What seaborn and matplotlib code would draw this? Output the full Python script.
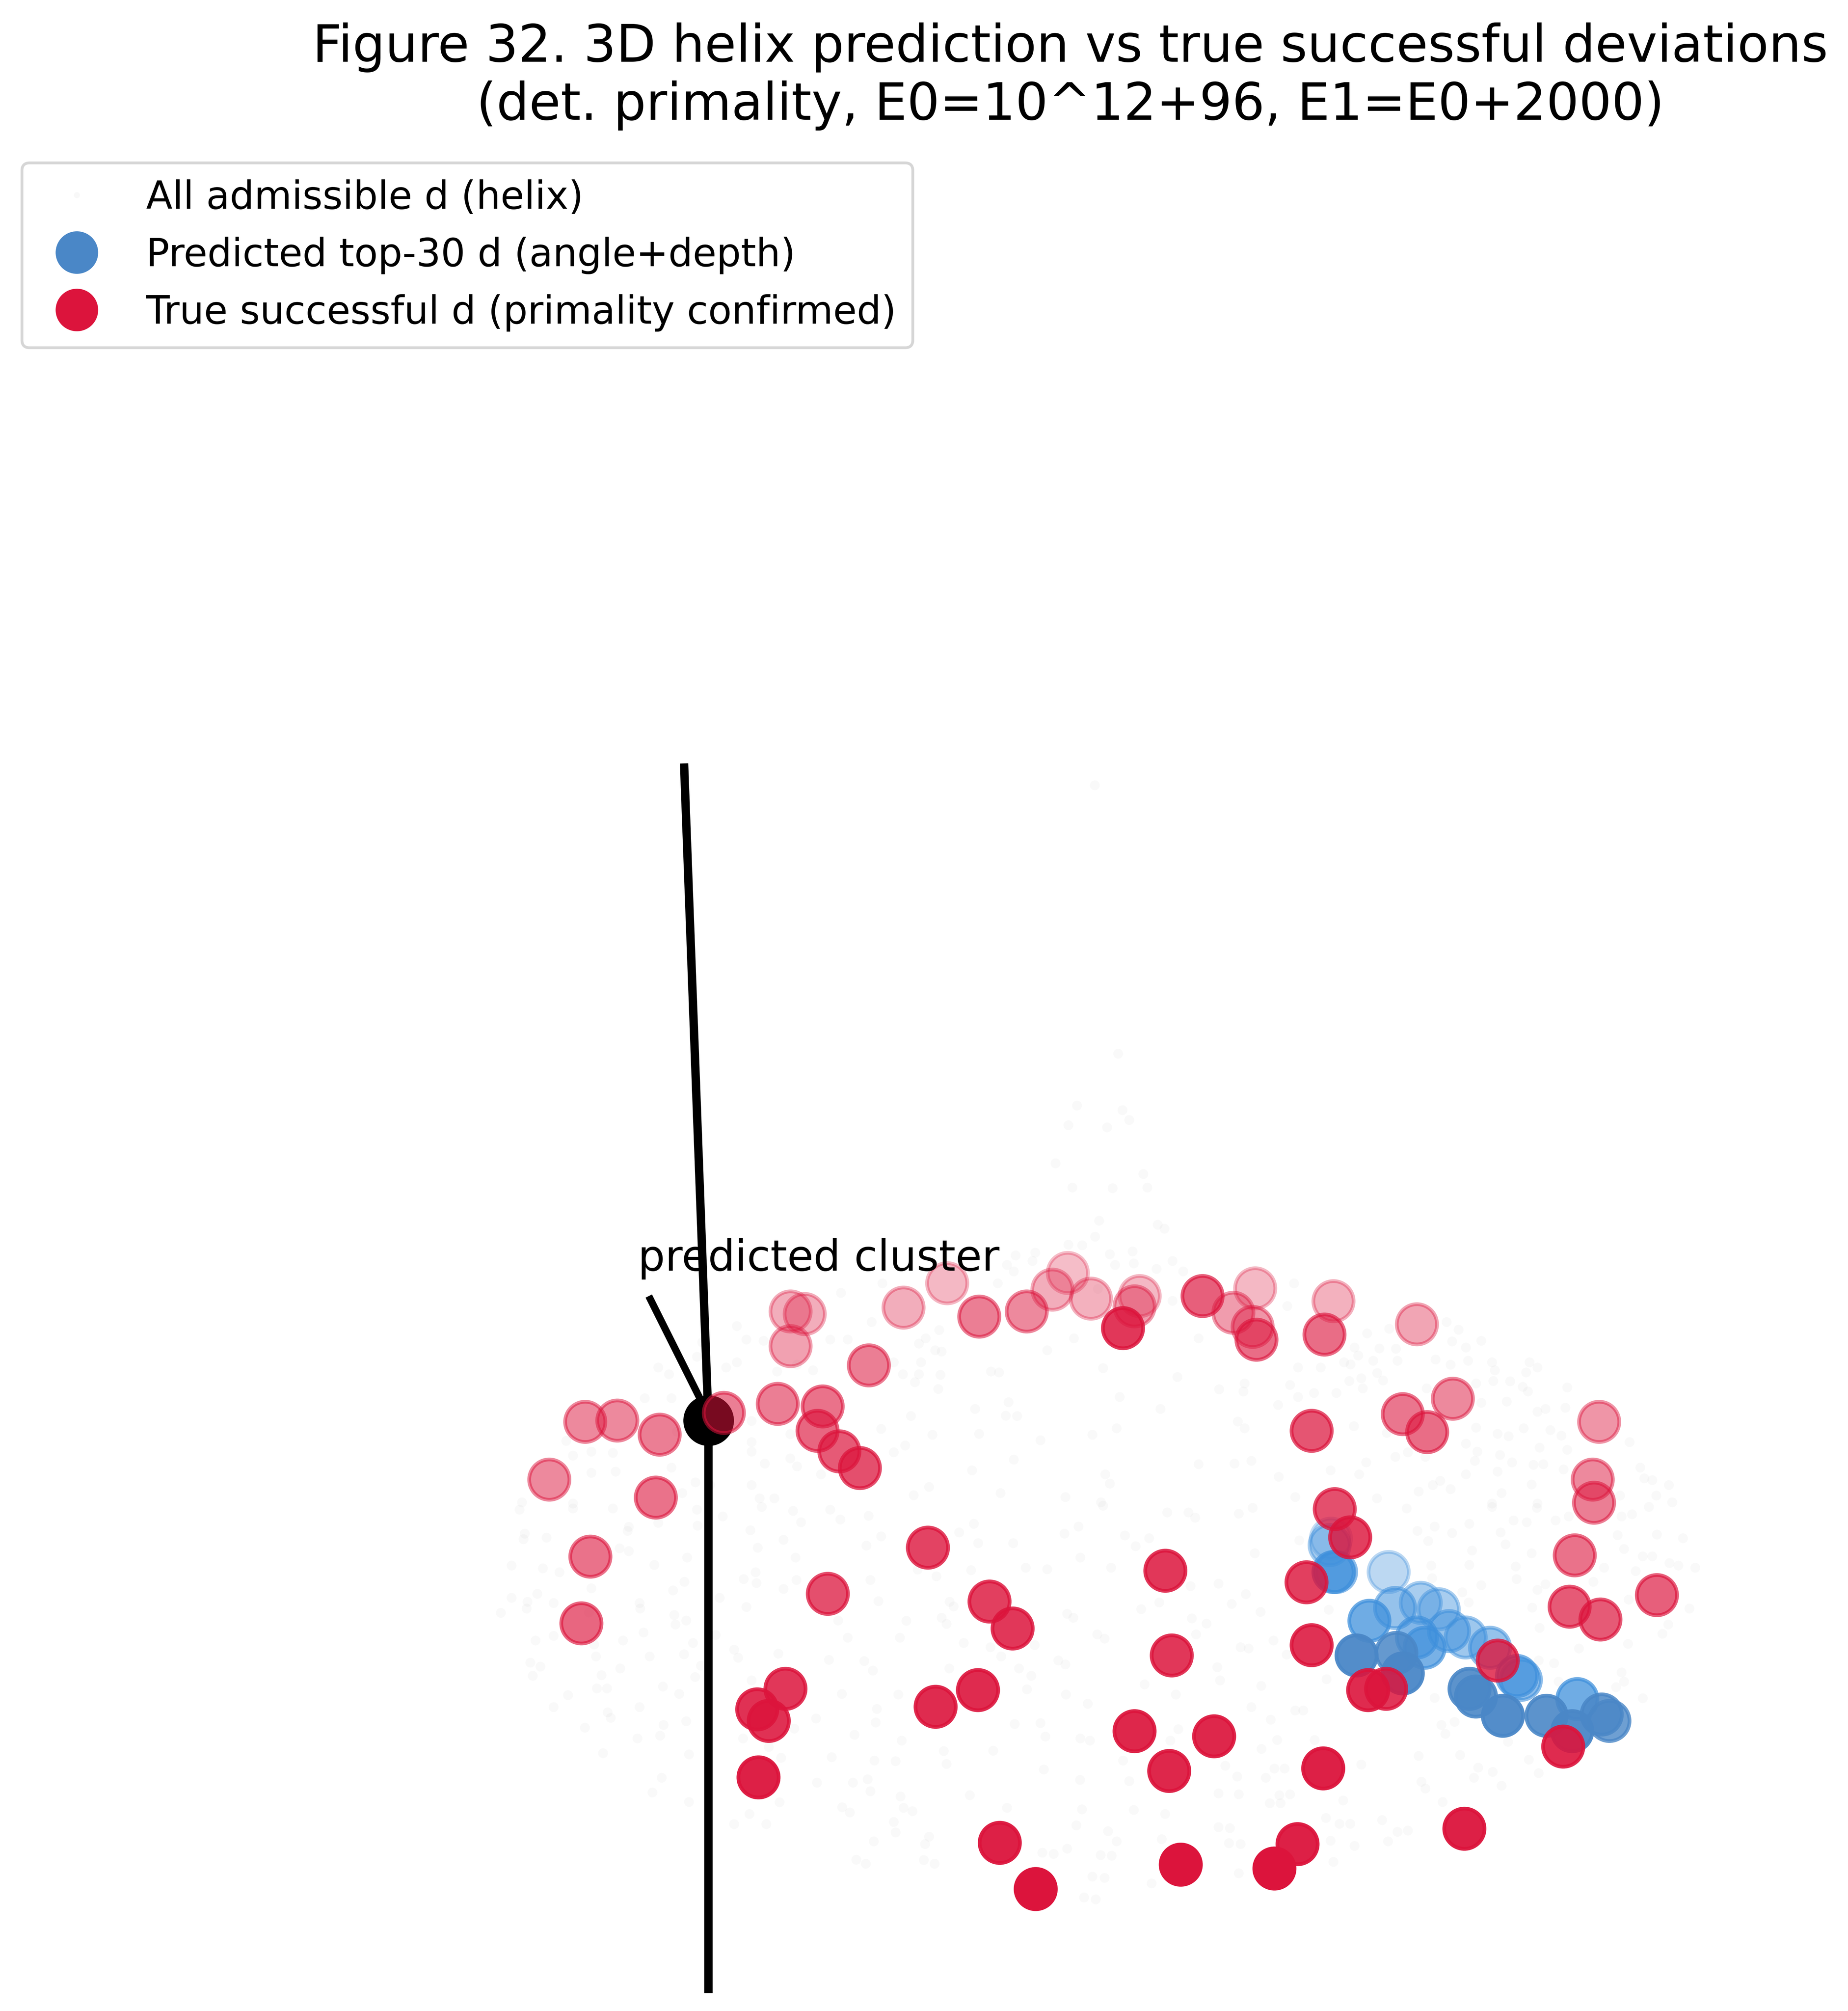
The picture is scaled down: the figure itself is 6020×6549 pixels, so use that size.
import numpy as np
import pandas as pd
import seaborn as sns
from matplotlib import pyplot as plt
from matplotlib.lines import Line2D

true_x = [456, 481, 514, 428, 511, 460, 453, 564, 606, 641, 637, 654, 670, 677, 616, 627, 616,
          704, 738, 763, 800, 820, 832, 850, 888, 884, 875, 937, 978, 961, 976, 979, 1039, 1032,
          1104, 1132, 1093, 1112, 1022, 1246, 1241, 1242, 1227, 1223, 1247, 1291, 1040, 1052,
          1018, 1022, 723, 645, 908, 771, 789, 913, 612, 590, 599, 591, 729, 762, 884, 946, 911,
          1031, 1066, 1080, 1167, 1218, 1141, 779, 807, 920, 993, 1011]
true_y = [1108, 1107, 1118, 1153, 1167, 1213, 1265, 1101, 1094, 1096, 1115, 1131, 1144, 1064,
          1022, 1024, 1049, 1019, 1000, 1026, 1022, 1005, 992, 1012, 1010, 1018, 1035, 1010, 1004,
          1023, 1034, 1044, 1014, 1040, 1032, 1090, 1102, 1116, 1115, 1108, 1153, 1171, 1212,
          1252, 1262, 1243, 1176, 1198, 1233, 1282, 1206, 1242, 1224, 1248, 1269, 1290, 1316,
          1332, 1341, 1385, 1330, 1317, 1349, 1353, 1380, 1378, 1317, 1316, 1294, 1361, 1425,
          1436, 1472, 1453, 1456, 1437]
true_depth = [.50, .50, .55, .50, .60, .60, .65, .55, .55, .60, .65, .70, .75, .55, .35, .35, .40,
              .35, .30, .55, .50, .35, .28, .33, .30, .42, .85, .68, .30, .42, .45, .62, .33, .62,
              .38, .50, .58, .62, .72, .45, .50, .55, .60, .70, .70, .68, .75, .82, .82, .88, .80,
              .75, .85, .82, .85, .85, .85, .88, .88, .95, .90, .90, .92, .92, .92, .95, .90, .85,
              .80, .90, .95, .95, 1.0, 1.0, 1.0, .95]

pred_x = [1082, 1037, 1036, 1039, 1041, 1087, 1107, 1121, 1067, 1104, 1110, 1129, 1142, 1161, 1182,
          1185, 1057, 1088, 1093, 1145, 1150, 1171, 1205, 1229, 1225, 1248, 1254]
pred_y = [1225, 1199, 1204, 1225, 1225, 1253, 1249, 1254, 1263, 1276, 1284, 1271, 1276, 1284, 1306,
          1309, 1290, 1288, 1304, 1316, 1322, 1337, 1337, 1324, 1349, 1336, 1341]
pred_depth = [.35, .30, .45, .75, .60, .55, .45, .45, .75, .65, .70, .55, .50, .55, .70, .60, .95,
              .85, .95, .90, .90, .95, .90, .75, .95, .85, .80]

# faint helix points, read crop by crop (crop units)
helix_lower_left = [
    (170, 15), (370, 10), (520, 10), (190, 105), (185, 125), (272, 120), (580, 80), (575, 95), (690, 65),
    (835, 15), (838, 75), (140, 225), (258, 235), (320, 250), (545, 160), (580, 170), (675, 222), (798, 195),
    (140, 345), (237, 330), (200, 360), (197, 385), (100, 402), (298, 365), (440, 310), (430, 400), (620, 365),
    (622, 385), (745, 318), (788, 285), (750, 410), (755, 445), (795, 430), (230, 505), (298, 488), (450, 520),
    (558, 505), (635, 475), (820, 515), (457, 565), (658, 565), (787, 557), (210, 588), (248, 603), (220, 638),
    (548, 610), (478, 635), (460, 685), (498, 685), (828, 642), (850, 600), (708, 678), (768, 706), (352, 710),
    (298, 755), (620, 755), (500, 775), (512, 795), (795, 808), (710, 822), (697, 862), (415, 832), (612, 872),
    (483, 927), (805, 932), (703, 1020), (668, 1075), (805, 1110), (932, 40), (1078, 5), (1195, 20), (1225, 62),
    (1335, 15), (1373, 52), (1478, 38), (1035, 92), (1160, 128), (1063, 158), (1470, 150), (1525, 115),
    (1205, 195), (1055, 250), (1010, 275), (1058, 290), (1208, 278), (1160, 312), (1485, 278), (920, 345),
    (1020, 380), (1515, 358), (1365, 430), (905, 485), (1400, 495), (975, 540), (990, 570), (1140, 555),
    (1330, 578), (1462, 582), (1495, 618), (1040, 655), (1378, 705), (1510, 762), (1282, 798), (1505, 812),
    (1200, 835), (1425, 858), (1008, 872), (1105, 905), (1340, 942), (1150, 945), (1500, 955), (1285, 1038),
    (1420, 1038), (1475, 1025), (1485, 1070), (1145, 1112), (1380, 1130), (1408, 1150), (1032, 1155), (975, 1193),
    (1095, 1193), (1498, 1258), (1432, 1327), (1468, 1342),
]
helix_lower_mid = [
    (305, 68), (250, 100), (698, 78), (645, 105), (322, 140), (453, 140), (872, 112), (962, 122), (912, 152),
    (1030, 25), (1110, 25), (1135, 45), (1298, 30), (1350, 8), (790, 0), (705, 195), (820, 232), (295, 242),
    (500, 232), (580, 238), (165, 265), (95, 240), (1525, 130), (1358, 178), (1222, 292), (1118, 302), (1325, 332),
    (1272, 368), (1000, 362), (932, 388), (230, 378), (215, 360), (185, 420), (203, 443), (52, 432), (28, 495),
    (268, 515), (655, 405), (678, 420), (1380, 398), (1122, 422), (1178, 442), (1138, 482), (768, 482), (795, 498),
    (1428, 505), (1305, 530), (1335, 535), (368, 530), (533, 522), (408, 565), (622, 580), (648, 595), (1478, 558),
    (213, 610), (475, 610), (520, 638), (1218, 605), (1228, 655), (945, 670), (1382, 675), (505, 688), (650, 708),
    (22, 708), (1062, 708), (732, 742), (1345, 755), (1510, 768), (1540, 768), (458, 818), (555, 815), (1418, 802),
    (573, 865), (35, 880), (705, 872), (740, 880), (1072, 838), (1042, 880), (1442, 878), (193, 920), (378, 918),
    (1383, 912), (12, 958), (203, 968), (865, 955), (568, 988), (1248, 975), (1432, 985), (1470, 985), (1292, 1015),
    (1400, 1020), (703, 1028), (888, 1032), (30, 1090), (290, 1085), (1222, 1078), (1298, 1082), (1450, 1085),
    (1490, 1082), (1415, 1115), (1455, 1115), (430, 1132), (42, 1132), (75, 1145), (710, 1138), (905, 1140),
    (1022, 1155), (690, 1198), (5, 1185), (12, 1225), (1222, 1205), (1265, 1208), (808, 1220), (840, 1258),
    (138, 1240), (122, 1268), (1010, 1250), (1262, 1265), (1305, 1268), (118, 1328), (158, 1342), (562, 1300),
    (605, 1305), (655, 1285), (780, 1310), (822, 1312), (750, 1390), (795, 1395), (1298, 1378), (972, 1415),
    (718, 1468), (762, 1475),
]
helix_lower_right = [
    (360, 10), (680, 5), (848, 8), (1268, 5), (400, 95), (465, 78), (530, 102), (595, 68), (440, 132), (712, 100),
    (760, 55), (810, 62), (918, 55), (968, 40), (1165, 40), (1205, 32), (605, 168), (730, 145), (828, 178),
    (1150, 110), (1298, 108), (1395, 122), (1175, 162), (452, 225), (595, 222), (768, 228), (1245, 190),
    (1280, 190), (1345, 215), (1378, 225), (1442, 232), (1100, 232), (1218, 245), (455, 272), (772, 275), (640, 298),
    (1060, 285), (850, 315), (880, 295), (568, 325), (592, 362), (68, 390), (830, 382), (1192, 352), (1420, 385),
    (858, 458), (1340, 445), (1318, 480), (1190, 518), (1005, 535), (855, 580), (912, 590), (1165, 625), (1175, 660),
    (1145, 680), (930, 660), (60, 650), (465, 720), (1245, 722), (490, 822), (540, 810), (505, 855), (740, 885),
    (15, 878), (405, 938), (560, 935), (190, 970), (818, 952), (628, 982), (682, 998), (612, 1020), (855, 1002),
    (415, 1035), (430, 1060), (715, 1050), (122, 1105), (495, 1110), (58, 1170), (108, 1192), (148, 1192),
    (268, 1178), (365, 1218), (325, 1222), (75, 1255), (290, 1258), (165, 1275), (85, 1335),
]
helix_upper_left = [
    (1530, 735), (1375, 770), (985, 895), (1020, 945), (1085, 950), (1335, 945), (1400, 945), (1490, 880), (855, 955),
    (690, 1050), (730, 1075), (835, 1010), (870, 1015), (985, 1030), (945, 1050), (1270, 1060), (1135, 1065),
    (1210, 1040), (640, 1165), (740, 1165), (1040, 1250), (345, 1325), (370, 1380), (440, 1365), (520, 1370),
    (760, 1290), (1040, 1330), (1040, 1365), (1185, 1300), (1185, 1390), (1090, 1410), (1210, 1420), (740, 1425),
    (440, 1445), (530, 1440), (1300, 1450), (1040, 1490), (885, 1490), (780, 1520), (1125, 1540), (1070, 1540),
    (180, 1555), (370, 1560), (830, 1480), (1525, 1280),
]
helix_upper_mid = [
    (692, 68), (862, 85), (888, 122), (660, 142), (805, 150), (612, 285), (940, 325), (675, 375), (825, 378),
    (955, 375), (775, 500), (995, 515), (1020, 530), (760, 560), (660, 590), (712, 592), (900, 615), (815, 625),
    (462, 630), (535, 620), (430, 665), (455, 690), (525, 650), (1050, 650), (835, 665), (905, 660), (990, 680),
    (395, 735), (1090, 690), (1505, 735), (770, 755), (1050, 800), (1480, 820), (175, 910), (125, 940), (100, 960),
    (680, 940), (1148, 940), (580, 985), (160, 985), (185, 990), (108, 1030), (5, 1030), (790, 1052), (370, 1065),
    (400, 1068), (40, 1075), (100, 1075), (180, 1078), (85, 1105), (1068, 1085), (1520, 1050), (1490, 1115),
    (172, 1130), (1225, 1132), (1320, 1110), (1315, 1140), (852, 1160), (1520, 1160), (435, 1180), (1445, 1190),
    (310, 1205), (1005, 1205), (70, 1232), (425, 1230), (468, 1232), (1295, 1252), (1320, 1278), (840, 1278),
    (150, 1302), (325, 1298), (750, 1302), (555, 1322), (48, 1342), (5, 1368), (455, 1395), (1148, 1412),
    (1282, 1410), (1345, 1400), (298, 1435), (798, 1450), (815, 1485), (1448, 1460), (138, 1498), (80, 1528),
    (405, 1520), (648, 1535), (782, 1555), (1510, 1535),
]
helix_upper_right = [
    (212, 922), (295, 905), (510, 880), (555, 908), (530, 952), (582, 975), (640, 950), (165, 975), (178, 1005),
    (258, 978), (320, 980), (235, 1025), (325, 1025), (125, 1030), (150, 1038), (38, 1050), (468, 1020), (525, 1040),
    (590, 1025), (680, 1030), (690, 1060), (820, 1030), (808, 1068), (850, 1050), (145, 1100), (190, 1090),
    (195, 1128), (250, 1070), (272, 1098), (12, 1145), (97, 1145), (685, 1100), (748, 1102), (795, 1122), (815, 1140),
    (962, 1125), (435, 1128), (620, 1110), (640, 1182), (735, 1178), (955, 1200), (850, 1215), (880, 1205),
    (162, 1270), (285, 1295), (620, 1275), (798, 1278), (700, 1298), (742, 1308), (898, 1285), (940, 1305),
    (582, 1335), (1195, 1330), (625, 1365), (858, 1350), (962, 1358), (365, 1368), (318, 1385), (710, 1378),
    (615, 1400), (755, 1405), (430, 1385), (208, 1405), (835, 1415), (872, 1412), (948, 1432), (75, 1435),
    (182, 1450), (700, 1440), (582, 1450), (1235, 1425), (485, 1475), (458, 1490), (1250, 1465), (1280, 1472),
    (828, 1488), (1342, 1490), (525, 1505), (405, 1515), (715, 1520), (248, 1540), (1295, 1530), (1160, 1530),
    (680, 1560), (850, 1560), (1355, 1555),
]
helix_top_x = [853, 871]
helix_top_y = [612, 821]

axis_x = [533, 552, 552]
axis_y = [595, 1108, 1553]
cluster_x = [552]
cluster_y = [1107]
pointer_x = [505.5, 548]
pointer_y = [1010, 1095]

title_text = "Figure 32. 3D helix prediction vs true successful deviations\n(det. primality, E0=10^12+96, E1=E0+2000)"
legend_labels = ["All admissible d (helix)", "Predicted top-30 d (angle+depth)", "True successful d (primality confirmed)"]

BLUE = "#4a87c7"
BLUE_FAR = "#3f90dc"
RED = "#dc143c"
CROP_SCALE = 4.81
# the sandbox refuses pictures above 40 megapixels, so keep the reference's shape just below that
OUT_DPI = 545


def section_frame(points, left, top):
    section = pd.DataFrame(points, columns=["x", "y"])
    section["x"] = left + section["x"] / CROP_SCALE
    section["y"] = top + section["y"] / CROP_SCALE
    return section


def depth_scatter(ax, df, color, zorder):
    df = df.sort_values("depth").reset_index(drop=True)
    sns.scatterplot(
        data=df, x="x", y="y", ax=ax, color=color, edgecolor=color,
        s=300, linewidth=1.6, alpha=df["depth"].to_numpy(), zorder=zorder, legend=False
    )


sns.set_theme(style="white")
plt.rcParams["font.family"] = ["DejaVu Sans"]
plt.rcParams["text.color"] = "black"

helix_df = pd.concat([
    section_frame(helix_lower_left, 369.3, 1173.2),
    section_frame(helix_lower_mid, 695.2, 1173.2),
    section_frame(helix_lower_right, 1021.1, 1173.2),
    section_frame(helix_upper_left, 369.3, 847.3),
    section_frame(helix_upper_mid, 695.2, 847.3),
    section_frame(helix_upper_right, 1021.1, 847.3),
    pd.DataFrame({"x": helix_top_x, "y": helix_top_y}),
], ignore_index=True)
pred_df = pd.DataFrame({"x": pred_x, "y": pred_y, "depth": pred_depth})
true_df = pd.DataFrame({"x": true_x, "y": true_y, "depth": true_depth})

fig = plt.figure(figsize=(6628 / 600, 7211 / 600), dpi=OUT_DPI)
ax = fig.add_axes([0, 0, 1, 1])

sns.scatterplot(data=helix_df, x="x", y="y", ax=ax, color="#808080", s=18, linewidth=0, alpha=0.045, zorder=1, legend=False)
sns.lineplot(x=axis_x, y=axis_y, ax=ax, sort=False, estimator=None, color="black", linewidth=3.6, solid_capstyle="butt", zorder=2)
sns.lineplot(x=pointer_x, y=pointer_y, ax=ax, sort=False, estimator=None, color="black", linewidth=3.1, solid_capstyle="butt", zorder=2)
sns.scatterplot(x=cluster_x, y=cluster_y, ax=ax, color="black", edgecolor="black", s=440, linewidth=0.8, zorder=3, legend=False)
depth_scatter(ax, pred_df[pred_df["depth"] < 0.8], BLUE_FAR, 4)
depth_scatter(ax, pred_df[pred_df["depth"] >= 0.8], BLUE, 4)
depth_scatter(ax, true_df, RED, 5)

ax.text(497, 990, "predicted cluster", fontsize=18.4, color="black", ha="left", va="baseline", zorder=6)

ax.set_xlim(0, 1440)
ax.set_ylim(1567, 0)
ax.axis("off")

fig.suptitle(title_text, x=834 / 1440, y=1 - 17.5 / 1567, va="top", ha="center", fontsize=22.1, color="black")

handles = [
    Line2D([], [], linestyle="", marker="o", markersize=2.6, markerfacecolor="#808080", markeredgewidth=0, alpha=0.05),
    Line2D([], [], linestyle="", marker="o", markersize=17.5, markerfacecolor=BLUE, markeredgecolor=BLUE, markeredgewidth=0.8),
    Line2D([], [], linestyle="", marker="o", markersize=17.5, markerfacecolor=RED, markeredgecolor=RED, markeredgewidth=0.8),
]
legend = ax.legend(
    handles=handles, labels=legend_labels, loc="upper left",
    bbox_to_anchor=(17 / 1440, 1 - 127 / 1567), borderaxespad=0, fontsize=16.6,
    frameon=True, fancybox=True, framealpha=0.8, edgecolor="0.8", labelcolor="black",
    borderpad=0.42, handlelength=2.0, handletextpad=0.8, labelspacing=0.52
)
legend.get_frame().set_linewidth(1.2)

fig.savefig("out.png", dpi=OUT_DPI, facecolor="white")
